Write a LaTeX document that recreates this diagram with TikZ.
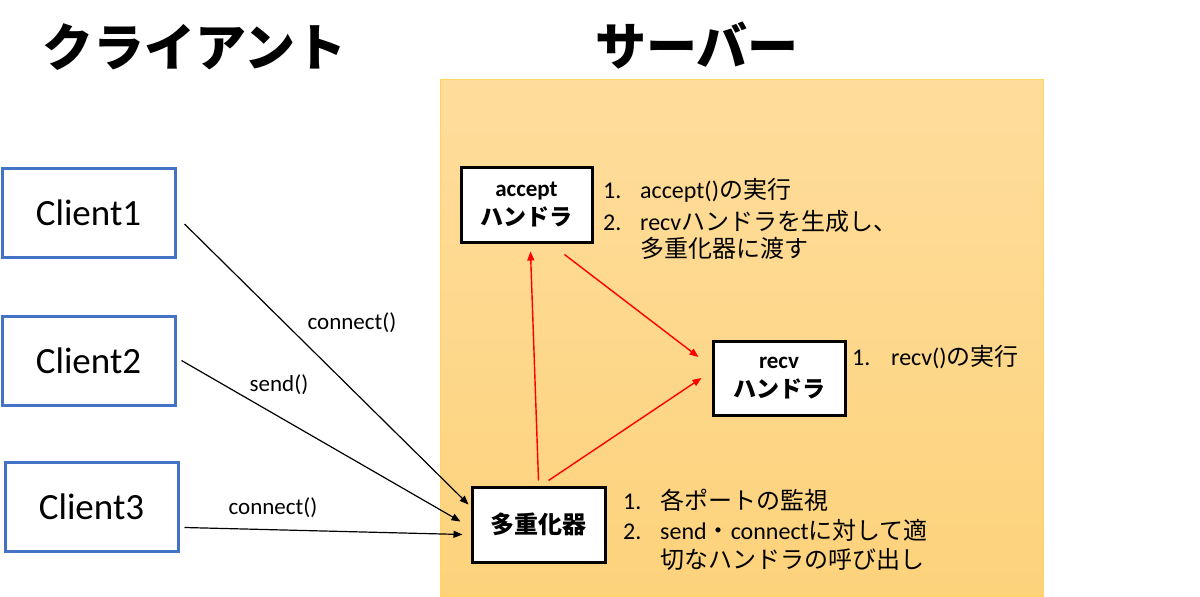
\documentclass[tikz,border=0pt]{standalone}
\usepackage{fontspec}
\setmainfont{Carlito}
\newfontfamily\jp{Noto Sans CJK JP}
\usetikzlibrary{arrows.meta}
\definecolor{cblue}{HTML}{4472C4}
\definecolor{srvtop}{HTML}{FEDD9C}
\definecolor{srvbot}{HTML}{FDD27B}
\definecolor{srvline}{HTML}{FFD55A}
\tikzset{
  client/.style={draw=cblue, line width=3pt, minimum width=173pt, minimum height=89pt, inner sep=0pt, font=\fontsize{37}{40}\selectfont},
  srvbox/.style={draw=black, line width=3pt, fill=white, inner sep=0pt, align=center},
  note/.style={anchor=west, inner sep=0pt, font=\fontsize{24}{28}\selectfont},
  lbl/.style={inner sep=0pt, font=\fontsize{23}{26}\selectfont},
  blkarrow/.style={-{Triangle[length=9pt,width=7pt]}, line width=1.2pt, black},
  redarrow/.style={-{Triangle[length=9pt,width=7pt]}, line width=1.4pt, red},
  ttl/.style={inner sep=0pt, font=\jp\bfseries\fontsize{51}{54}\selectfont}
}
\begin{document}
\begin{tikzpicture}[x=1pt,y=-1pt]
\useasboundingbox (0,0) rectangle (1200,597);
% server background
\shade[top color=srvtop, bottom color=srvbot] (440,79) rectangle (1043,596);
\draw[srvline, line width=1pt] (440,79) rectangle (1043,596);
% titles
\node[ttl] (tclient) at (194,47) {クライアント};
\node[ttl] (tserver) at (697,46) {サーバー};
% clients
\node[client] (c1) at (88.5,213) {Client1};
\node[client] (c2) at (88.5,360.5) {Client2};
\node[client] (c3) at (91.5,506.5) {Client3};
% server boxes
\node[srvbox, minimum width=131pt, minimum height=75pt, font=\bfseries\fontsize{23}{29}\selectfont] (acc) at (526.5,204.5)
  {accept\\{\jp\bfseries ハンドラ}};
\node[srvbox, minimum width=132pt, minimum height=74pt, font=\bfseries\fontsize{23}{29}\selectfont] (rv) at (779,378)
  {recv\\{\jp\bfseries ハンドラ}};
\node[srvbox, minimum width=133pt, minimum height=75pt] (mux) at (538.5,524.5)
  {\jp\bfseries\fontsize{24}{28}\selectfont 多重化器};
% notes
\node[note] (n1a) at (603,190) {\makebox[37pt][l]{1.}accept(){\jp の実行}};
\node[note] (n1b) at (603,221) {\makebox[37pt][l]{2.}recv{\jp ハンドラを生成し、}};
\node[note] (n1c) at (640,248) {\jp 多重化器に渡す};
\node[note] (n2a) at (852,357) {\makebox[39pt][l]{1.}recv(){\jp の実行}};
\node[note] (n3a) at (623,500) {\makebox[37pt][l]{1.}{\jp 各ポートの監視}};
\node[note] (n3b) at (623,530) {\makebox[37pt][l]{2.}send{\jp ・}connect{\jp に対して適}};
\node[note] (n3c) at (660,559) {\jp 切なハンドラの呼び出し};
% client arrows
\draw[blkarrow] ([xshift=8pt,yshift=-11pt]c1.east) -- ([xshift=-2pt,yshift=20pt]mux.west);
\draw[blkarrow] ([xshift=5pt]c2.east) -- ([xshift=-10pt,yshift=3pt]mux.west);
\draw[blkarrow] ([xshift=5pt,yshift=-21pt]c3.east) -- ([xshift=-8pt,yshift=-10pt]mux.west);
\node[lbl] (l1) at (352,323) {connect()};
\node[lbl] (l2) at (279,385) {send()};
\node[lbl] (l3) at (273,508) {connect()};
% red arrows
\draw[redarrow] ([yshift=5pt]mux.north) -- ([xshift=4pt,yshift=-8pt]acc.south);
\draw[redarrow] ([xshift=38pt,yshift=-11pt]acc.south) -- ([xshift=-13pt,yshift=21pt]rv.west);
\draw[redarrow] ([xshift=10pt,yshift=5pt]mux.north) -- ([xshift=-10pt]rv.west);
\end{tikzpicture}
\end{document}
